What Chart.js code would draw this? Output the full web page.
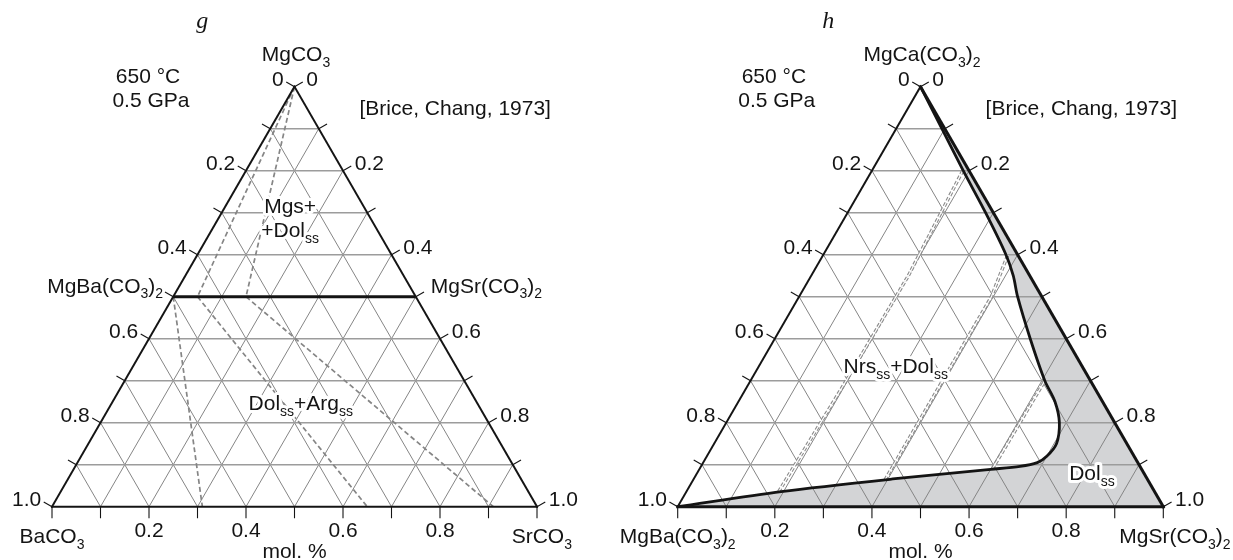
<!DOCTYPE html>
<html>
<head>
<meta charset="utf-8">
<script src="https://cdn.jsdelivr.net/npm/chart.js@4.4.1/dist/chart.umd.min.js"></script>
<style>
  html, body { margin: 0; padding: 0; background: #fff; }
  #wrap { position: relative; width: 1233px; height: 560px; overflow: hidden; }
  #wrap canvas { position: absolute; top: 0; }
</style>
</head>
<body>
<div id="wrap">
  <canvas id="g" width="616" height="560" style="left:0"></canvas>
  <canvas id="h" width="617" height="560" style="left:616px"></canvas>
</div>
<script>
// grid / tick steps (mole fraction)
const GRID_STEPS = [0.1, 0.2, 0.3, 0.4, 0.5, 0.6, 0.7, 0.8, 0.9];
const TICK_STEPS = [0, 0.1, 0.2, 0.3, 0.4, 0.5, 0.6, 0.7, 0.8, 0.9, 1.0];
const SIDE_VALUES = [0, 0.2, 0.4, 0.6, 0.8, 1.0];
const SIDE_LABELS = ['0', '0.2', '0.4', '0.6', '0.8', '1.0'];
const BASE_VALUES = [0.2, 0.4, 0.6, 0.8];
const BASE_LABELS = ['0.2', '0.4', '0.6', '0.8'];

// panel g — points are [right-corner share, top-corner share]
const G_CORNERS = ['MgCO_3', 'BaCO_3', 'SrCO_3'];
const G_JOIN = [[0, 0.5], [0.5, 0.5]];                 // MgBa(CO3)2 — MgSr(CO3)2
const G_TIES_MGS = [
  [[0, 1], [0.05, 0.5]],
  [[0, 1], [0.15, 0.5]]
];
const G_TIES_ARG = [
  [[0, 0.5], [0.31, 0]],
  [[0.05, 0.5], [0.65, 0]],
  [[0.15, 0.5], [0.91, 0]]
];

// panel h
const H_CORNERS = ['MgCa(CO_3)_2', 'MgBa(CO_3)_2', 'MgSr(CO_3)_2'];
const H_SOLVUS = [
  [0, 1], [0.094, 0.9], [0.188, 0.8], [0.284, 0.7], [0.376, 0.6], [0.416, 0.55],
  [0.450, 0.5], [0.526, 0.4], [0.606, 0.3], [0.652, 0.25], [0.686, 0.2], [0.705, 0.15],
  [0.70, 0.12], [0.688, 0.105], [0.657, 0.096], [0.60, 0.089],
  [0.41, 0.066], [0.195, 0.036], [0, 0]
];
const H_TIES = [
  [[0.19, 0.036], [0.197, 0.3], [0.2, 0.55], [0.187, 0.8]],
  [[0.395, 0.064], [0.396, 0.5], [0.38, 0.6]],
  [[0.603, 0.09], [0.606, 0.3]]
];

const FONT = '"Liberation Sans", Arial, sans-serif';
const INK = '#141414';

function toXY(p) { return { x: p[0] + p[1] / 2, y: p[1] }; }

// text with _x / _{xx} subscripts
function richText(ctx, str, x, y, align, size, halo) {
  const parts = [];
  str.replace(/_\{([^}]*)\}|_(.)|([^_]+)/g, (m, a, b, c) => {
    if (c) parts.push({ t: c, sub: false });
    else parts.push({ t: a || b, sub: true });
  });
  const big = size + 'px ' + FONT;
  const small = Math.round(size * 0.68) + 'px ' + FONT;
  let w = 0;
  parts.forEach(p => { ctx.font = p.sub ? small : big; p.w = ctx.measureText(p.t).width; w += p.w; });
  let x0 = align === 'center' ? x - w / 2 : align === 'right' ? x - w : x;
  ctx.textAlign = 'left';
  ctx.textBaseline = 'alphabetic';
  const run = fn => {
    let cx = x0;
    parts.forEach(p => {
      ctx.font = p.sub ? small : big;
      fn(p.t, cx, y + (p.sub ? size * 0.26 : 0));
      cx += p.w;
    });
  };
  if (halo) {
    ctx.strokeStyle = '#fff';
    ctx.lineWidth = 6;
    ctx.lineJoin = 'round';
    run((t, a, b) => ctx.strokeText(t, a, b));
  }
  ctx.fillStyle = INK;
  run((t, a, b) => ctx.fillText(t, a, b));
}

const ternary = {
  id: 'ternary',
  beforeDatasetsDraw(chart, args, opts) {
    const { ctx } = chart;
    const xs = chart.scales.x, ys = chart.scales.y;
    const P = (s, t) => [xs.getPixelForValue(s + t / 2), ys.getPixelForValue(t)];

    // shaded one-phase field (right of the solvus)
    if (opts.fillDataset !== undefined) {
      const line = chart.getDatasetMeta(opts.fillDataset).dataset;
      ctx.save();
      ctx.beginPath();
      try {
        line.updateControlPoints(chart.chartArea, 'x');
        line.path(ctx);
      } catch (e) {
        H_SOLVUS.forEach((p, i) => { const q = P(p[0], p[1]); i ? ctx.lineTo(q[0], q[1]) : ctx.moveTo(q[0], q[1]); });
      }
      const r = P(1, 0);
      ctx.lineTo(r[0], r[1]);
      ctx.closePath();
      ctx.fillStyle = '#d3d4d6';
      ctx.fill();
      ctx.restore();
    }

    // grid
    ctx.save();
    const seg = (a, b) => { ctx.beginPath(); ctx.moveTo(a[0], a[1]); ctx.lineTo(b[0], b[1]); ctx.stroke(); };
    ctx.strokeStyle = '#858585';
    ctx.lineWidth = 1;
    GRID_STEPS.forEach(v => {
      seg(P(v, 0), P(v, 1 - v));
      seg(P(v, 0), P(0, v));
    });
    ctx.strokeStyle = '#9c9c9c';
    ctx.lineWidth = 1.4;
    GRID_STEPS.forEach(v => seg(P(0, v), P(1 - v, v)));
    ctx.restore();
  },
  afterDatasetsDraw(chart, args, opts) {
    const { ctx } = chart;
    const xs = chart.scales.x, ys = chart.scales.y;
    const P = (s, t) => [xs.getPixelForValue(s + t / 2), ys.getPixelForValue(t)];
    const seg = (a, b) => { ctx.beginPath(); ctx.moveTo(a[0], a[1]); ctx.lineTo(b[0], b[1]); ctx.stroke(); };
    ctx.save();
    ctx.lineCap = 'square';
    ctx.strokeStyle = INK;
    // ticks
    ctx.lineWidth = 1.1;
    const L = 9;
    TICK_STEPS.forEach(v => {
      const a = P(0, 1 - v); seg(a, [a[0] - L * 0.866, a[1] - L * 0.5]);
      const b = P(v, 1 - v); seg(b, [b[0] + L * 0.866, b[1] - L * 0.5]);
      const c = P(v, 0); seg(c, [c[0], c[1] + 11]);
    });
    // triangle sides
    const ew = opts.edgeWidths;
    ctx.lineWidth = ew[0]; seg(P(0, 0), P(0, 1));
    ctx.lineWidth = ew[1]; seg(P(0, 1), P(1, 0));
    ctx.lineWidth = ew[2]; seg(P(0, 0), P(1, 0));
    ctx.restore();
  },
  afterDraw(chart, args, opts) {
    const { ctx } = chart;
    const xs = chart.scales.x, ys = chart.scales.y;
    const P = (s, t) => [xs.getPixelForValue(s + t / 2), ys.getPixelForValue(t)];
    const A = (x, y) => [xs.getPixelForValue(x), ys.getPixelForValue(y)];
    const L = 9;
    ctx.save();
    // side tick labels
    SIDE_VALUES.forEach((v, i) => {
      const a = P(0, 1 - v);
      richText(ctx, SIDE_LABELS[i], a[0] - L * 0.866 - 3, a[1] - L * 0.5 + 4, 'right', 21);
      const b = P(v, 1 - v);
      richText(ctx, SIDE_LABELS[i], b[0] + L * 0.866 + 4, b[1] - L * 0.5 + 4, 'left', 21);
    });
    BASE_VALUES.forEach((v, i) => {
      const c = P(v, 0);
      richText(ctx, BASE_LABELS[i], c[0], c[1] + 30, 'center', 21);
    });
    // notes
    opts.notes.forEach(n => {
      const p = A(n.at[0], n.at[1]);
      if (n.serif) {
        ctx.font = 'italic 24px "Liberation Serif", "DejaVu Serif", serif';
        ctx.fillStyle = INK;
        ctx.textAlign = 'center';
        ctx.textBaseline = 'alphabetic';
        ctx.fillText(n.text, p[0], p[1]);
      } else {
        richText(ctx, n.text, p[0], p[1], n.align || 'center', 21, n.halo);
      }
    });
    ctx.restore();
  }
};

function notesFor(title, corners, sideA, sideB, phases) {
  return [
    { text: title, at: [0.31, 1.14], serif: true },
    { text: corners[0], at: [0.503, 1.061] },
    { text: '650 °C', at: [0.198, 1.009] },
    { text: '0.5 GPa', at: [0.204, 0.952] },
    { text: '[Brice, Chang, 1973]', at: [0.634, 0.933], align: 'left' },
    { text: corners[1], at: [0, -0.087] },
    { text: corners[2], at: [corners[2].length > 8 ? 1.024 : 1.01, -0.087] },
    { text: 'mol. %', at: [0.5, -0.121] }
  ].concat(sideA ? [
    { text: sideA, at: [0.229, 0.509], align: 'right' },
    { text: sideB, at: [0.781, 0.509], align: 'left' }
  ] : []).concat(phases);
}

function makePanel(id, pad, datasets, pluginOpts) {
  return new Chart(document.getElementById(id), {
    type: 'scatter',
    data: { datasets: datasets },
    options: {
      responsive: false,
      animation: false,
      devicePixelRatio: 1,
      layout: { padding: pad },
      scales: {
        x: { type: 'linear', min: 0, max: 1, display: false },
        y: { type: 'linear', min: 0, max: 1, display: false }
      },
      elements: { point: { radius: 0, hoverRadius: 0 } },
      plugins: { legend: { display: false }, tooltip: { enabled: false }, ternary: pluginOpts }
    },
    plugins: [ternary]
  });
}

// ---- panel g ----
const gSets = [];
G_TIES_MGS.concat(G_TIES_ARG).forEach(tie => gSets.push({
  data: tie.map(toXY), showLine: true, borderColor: '#858585', borderWidth: 1.7,
  borderDash: [5, 3], clip: false, order: 2
}));
gSets.push({ data: G_JOIN.map(toXY), showLine: true, borderColor: INK, borderWidth: 3, clip: false, order: 1 });

makePanel('g', { left: 52, right: 79, top: 86.7, bottom: 53.3 }, gSets, {
  edgeWidths: [2, 2, 2],
  notes: notesFor('g', G_CORNERS, 'MgBa(CO_3)_2', 'MgSr(CO_3)_2', [
    { text: 'Mgs+', at: [0.491, 0.699], halo: true },
    { text: '+Dol_{ss}', at: [0.491, 0.642], halo: true },
    { text: 'Dol_{ss}+Arg_{ss}', at: [0.513, 0.23], halo: true }
  ])
});

// ---- panel h ----
const hSets = [{
  data: H_SOLVUS.map(toXY), showLine: true, borderColor: INK, borderWidth: 2.8,
  tension: 0.3, clip: false, order: 1
}];
H_TIES.forEach(tie => {
  hSets.push({ data: tie.map(toXY), showLine: true, borderColor: '#8c8c8c', borderWidth: 3.4,
    borderDash: [4, 2], clip: false, order: 3 });
  hSets.push({ data: tie.map(toXY), showLine: true, borderColor: '#ffffff', borderWidth: 1.2,
    clip: false, order: 2 });
});

makePanel('h', { left: 61.7, right: 69.7, top: 86.7, bottom: 53.3 }, hSets, {
  fillDataset: 0,
  edgeWidths: [2, 3, 3],
  notes: notesFor('h', H_CORNERS, null, null, [
    { text: 'Nrs_{ss}+Dol_{ss}', at: [0.449, 0.318], halo: true },
    { text: 'Dol_{ss}', at: [0.853, 0.063], halo: true }
  ])
});
</script>
</body>
</html>
